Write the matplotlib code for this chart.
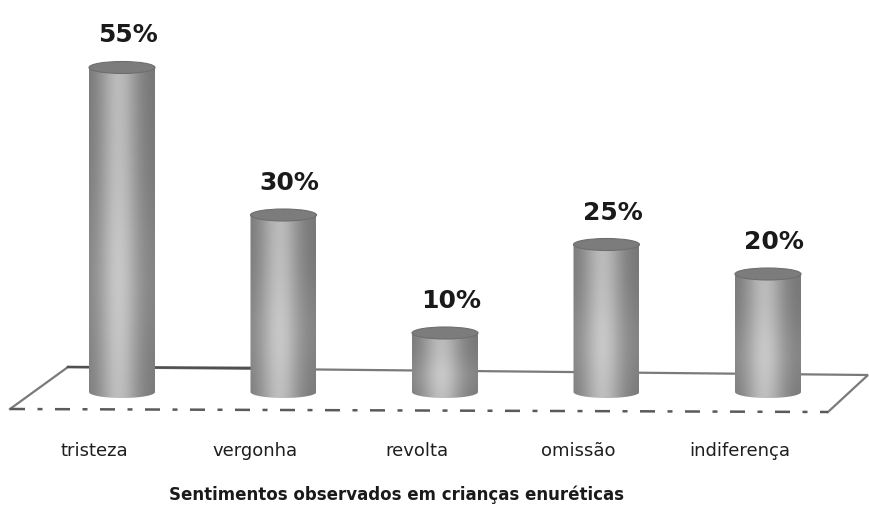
import numpy as np
import matplotlib
matplotlib.use("Agg")
import matplotlib.pyplot as plt
from matplotlib.patches import Ellipse, PathPatch
from matplotlib.path import Path

categories = ["tristeza", "vergonha", "revolta", "omissão", "indiferença"]
values = [55, 30, 10, 25, 20]
value_labels = ["55%", "30%", "10%", "25%", "20%"]
title = "Sentimentos observados em crianças enuréticas"

W, H = 870, 515
fig = plt.figure(figsize=(W / 100, H / 100), dpi=100)
ax = fig.add_axes([0, 0, 1, 1])
ax.set_axis_off()

# pixel mapping: x index 0 at px 122, spacing 161.5 px; y=0 at px 392, 5.9 px per %
px_x0, px_dx = 122.0, 161.5
px_y0, px_dy = 392.0, 5.9
ax.set_xlim(-px_x0 / px_dx, (W - px_x0) / px_dx)
ax.set_ylim(-(H - px_y0) / px_dy, px_y0 / px_dy)


def dx(p):
    return (p - px_x0) / px_dx


def dy(p):
    return (px_y0 - p) / px_dy


# floor (drawn behind bars)
ax.plot([dx(10), dx(68), dx(868), dx(828)], [dy(409), dy(367), dy(375), dy(412)],
        color="#7a7a7a", lw=1.6, zorder=1, solid_joinstyle="miter")
ax.plot([dx(68), dx(270)], [dy(367), dy(368)], color="#505050", lw=1.8, zorder=1.1)
ax.plot([dx(10), dx(828)], [dy(409), dy(412)], color="#5a5a5a", lw=1.8,
        linestyle=(0, (6, 5, 2, 5)), zorder=1)

bw = 66 / px_dx           # bar width in data units
eh = 12 / px_dy           # ellipse height in data units

# horizontal shading profile for the cylinders
n = 200
t = np.linspace(0, 1, n)
prof = 0.46 + 0.27 * np.exp(-((t - 0.45) / 0.30) ** 2)
vgrad = np.linspace(0, 1, 80)[:, None]
shade = prof[None, :] + 0.05 * np.exp(-((vgrad - 0.35) / 0.3) ** 2)
img = np.dstack([shade, shade, shade]).clip(0, 1)

for i, v in enumerate(values):
    x = i
    th = np.linspace(np.pi, 2 * np.pi, 40)
    bx = x + bw / 2 * np.cos(th)
    by = eh / 2 * np.sin(th)
    verts = [(x - bw / 2, v)] + list(zip(bx, by)) + [(x + bw / 2, v), (x - bw / 2, v)]
    codes = [Path.MOVETO] + [Path.LINETO] * (len(verts) - 2) + [Path.CLOSEPOLY]
    body = PathPatch(Path(verts, codes), facecolor="none", edgecolor="none", zorder=2)
    ax.add_patch(body)
    im = ax.imshow(img, extent=[x - bw / 2, x + bw / 2, -eh / 2, v], origin="lower",
                   aspect="auto", zorder=2, interpolation="bilinear")
    im.set_clip_path(body)
    top = Ellipse((x, v), bw, eh, facecolor="#7c7c7c", edgecolor="#6e6e6e", lw=0.8, zorder=3)
    ax.add_patch(top)
    ax.text(x + 6 / px_dx, v + 32 / px_dy, value_labels[i], ha="center", va="center",
            fontsize=18, fontweight="bold", color="#1a1a1a", zorder=4)
    ax.text(x - 28 / px_dx, dy(451), categories[i], ha="center", va="center",
            fontsize=13, color="#1e1e1e", zorder=4)

ax.text(dx(397), dy(495), title, ha="center", va="center", fontsize=12,
        fontweight="bold", color="#1a1a1a")

fig.savefig("out.png", dpi=100)
